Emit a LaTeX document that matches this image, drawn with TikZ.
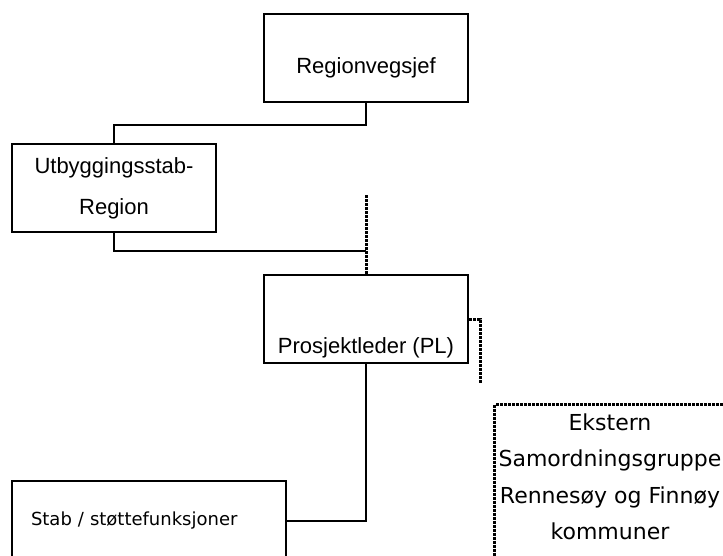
\documentclass[tikz,border=0pt]{standalone}
\usepackage{fontspec}
\setmainfont{Liberation Sans}
\newfontfamily\vfont{DejaVu Sans}
\usetikzlibrary{positioning}

\begin{document}
\begin{tikzpicture}[x=1pt,y=-1pt,line width=2pt,
    box/.style={draw,rectangle,minimum width=204pt,minimum height=88pt,inner sep=0pt,align=center,font=\fontsize{22}{41}\selectfont},
    dotbox/.style={draw,dash pattern=on 3pt off 1pt,line width=3pt,rectangle,inner sep=0pt},
    dotline/.style={dash pattern=on 3pt off 1pt,line width=3pt},
    txt/.style={inner sep=0pt,font=\fontsize{22}{26}\selectfont}]
    \useasboundingbox (0,0) rectangle (723,555);
    \clip (0,0) rectangle (723,555);
    % boxes
    \node[box] (rv) at (366,58) {};
    \node[txt,anchor=base] (rvtext) at ([yshift=-15pt]rv.center) {Regionvegsjef};
    \node[box] (ub) at (114,188) {Utbyggingsstab-\\Region};
    \node[box] (pl) at (366,319) {};
    \node[txt,anchor=base] (pltext) at ([yshift=11pt]pl.south) {Prosjektleder (PL)};
    \node[box,minimum width=274pt,minimum height=80pt,text width=236pt,inner xsep=19pt,align=left,font=\vfont\fontsize{18}{22}\selectfont] (stab) at (149,521) {Stab / støttefunksjoner};
    \node[dotbox,anchor=north west,minimum width=240pt,minimum height=200pt] (ek) at (493,403) {};
    \node[txt,align=center,font=\vfont\fontsize{22}{36.5}\selectfont] (ektext) at (610,477) {Ekstern\\Samordningsgruppe\\Rennesøy og Finnøy\\kommuner};
    % connectors
    \coordinate (dtop) at (366,195);
    \coordinate (ekend) at (480,384);
    \draw (rv.south) -- ++(0,22) -| (ub.north);
    \draw (ub.south) |- ([yshift=23pt]pl.north);
    \draw[dotline] (dtop) -- (pl.north);
    \draw (pl.south) |- (stab.east);
    \draw[dotline] (pl.east) -| (ekend);
\end{tikzpicture}
\end{document}
